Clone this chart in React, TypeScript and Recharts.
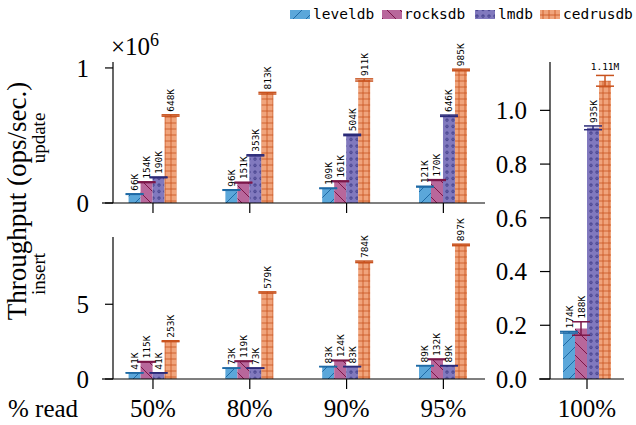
import { BarChart, Bar, XAxis, YAxis, ErrorBar, LabelList } from "recharts";

const readMixes = ["50%", "80%", "90%", "95%"];
const stores = ["leveldb", "rocksdb", "lmdb", "cedrusdb"];

// update workload, ops/sec
const updateLeveldb = [66000, 96000, 109000, 121000];
const updateRocksdb = [154000, 151000, 161000, 170000];
const updateLmdb = [190000, 353000, 504000, 646000];
const updateCedrusdb = [648000, 813000, 911000, 985000];
const updateLeveldbErr = [2000, 2000, 2000, 3000];
const updateRocksdbErr = [3000, 3000, 3000, 3000];
const updateLmdbErr = [3000, 4000, 5000, 5000];
const updateCedrusdbErr = [5000, 6000, 8000, 6000];

// insert workload, ops/sec
const insertLeveldb = [41000, 73000, 83000, 89000];
const insertRocksdb = [115000, 119000, 124000, 132000];
const insertLmdb = [41000, 73000, 83000, 89000];
const insertCedrusdb = [253000, 579000, 784000, 897000];
const insertLeveldbErr = [1000, 1000, 1000, 1000];
const insertRocksdbErr = [2000, 2000, 2000, 2000];
const insertLmdbErr = [1000, 1000, 1000, 1000];
const insertCedrusdbErr = [3000, 4000, 5000, 5000];

// 100% read, per store
const readOnlyMix = ["100%"];
const readOnlyValues = [174000, 188000, 935000, 1110000];
const readOnlyErr = [3000, 25000, 7000, 20000];

const fills: Record<string, string> = {
  leveldb: "#5ba7da",
  rocksdb: "#b8679b",
  lmdb: "#8179be",
  cedrusdb: "#f0a47c",
};
const darks: Record<string, string> = {
  leveldb: "#1f6aa5",
  rocksdb: "#7b1648",
  lmdb: "#2b2a78",
  cedrusdb: "#c8521e",
};

const serif = "Liberation Serif";
const mono = "DejaVu Sans Mono";
const axisStroke = { stroke: "#000", strokeWidth: 1.2 };
const tickText = { fill: "#000", fontSize: 25, fontFamily: serif };

const makeRows = (vals: number[][], errs: number[][]) =>
  readMixes.map((mix, i) => {
    const row: any = { x: i, mix };
    stores.forEach((s, j) => {
      row[s] = vals[j][i];
      row[s + "Err"] = errs[j][i];
    });
    return row;
  });

const updateRows = makeRows(
  [updateLeveldb, updateRocksdb, updateLmdb, updateCedrusdb],
  [updateLeveldbErr, updateRocksdbErr, updateLmdbErr, updateCedrusdbErr]
);
const insertRows = makeRows(
  [insertLeveldb, insertRocksdb, insertLmdb, insertCedrusdb],
  [insertLeveldbErr, insertRocksdbErr, insertLmdbErr, insertCedrusdbErr]
);
const readOnlyRows = readOnlyMix.map((mix) => {
  const row: any = { mix };
  stores.forEach((s, j) => {
    row[s] = readOnlyValues[j];
    row[s + "Err"] = readOnlyErr[j];
  });
  return row;
});

const fmt = (v: number) =>
  v >= 1e6 ? (v / 1e6).toFixed(2) + "M" : Math.round(v / 1000) + "K";

const patternDefs = (
  <defs>
    <pattern id="pat-leveldb" patternUnits="userSpaceOnUse" width="13" height="13">
      <rect width="13" height="13" fill={fills.leveldb} />
      <path d="M0,13 L13,0 M-3,3 L3,-3 M10,16 L16,10" stroke={darks.leveldb} strokeWidth="1" />
    </pattern>
    <pattern id="pat-rocksdb" patternUnits="userSpaceOnUse" width="13" height="13">
      <rect width="13" height="13" fill={fills.rocksdb} />
      <path d="M0,0 L13,13 M-3,10 L3,16 M10,-3 L16,3" stroke={darks.rocksdb} strokeWidth="1" />
    </pattern>
    <pattern id="pat-lmdb" patternUnits="userSpaceOnUse" width="6" height="6.5">
      <rect width="6" height="6.5" fill={fills.lmdb} />
      <circle cx="3" cy="3" r="1.2" fill="none" stroke={darks.lmdb} strokeWidth="0.8" />
    </pattern>
    <pattern id="pat-cedrusdb" patternUnits="userSpaceOnUse" width="6" height="6">
      <rect width="6" height="6" fill={fills.cedrusdb} />
      <path d="M3,0 V6 M0,3 H6" stroke={darks.cedrusdb} strokeWidth="0.8" />
    </pattern>
  </defs>
);

function BarLabel(props: any) {
  const vb = props.viewBox && props.viewBox.width !== undefined ? props.viewBox : props;
  const { x, y, width, height } = vb;
  const value = Number(props.value);
  const err = props.errs ? props.errs[props.index] || 0 : 0;
  const k = value ? height / value : 0;
  const top = y - err * k;
  const cx = x + width / 2;
  if (value >= 1e6) {
    return (
      <text x={cx} y={top - 5} textAnchor="middle" fontSize={9.5} fontFamily={mono} fill="#000">
        {fmt(value)}
      </text>
    );
  }
  return (
    <text
      transform={`translate(${cx}, ${top - 3}) rotate(-90)`}
      textAnchor="start"
      dominantBaseline="central"
      fontSize={9.5}
      fontFamily={mono}
      fill="#000"
    >
      {fmt(value)}
    </text>
  );
}

function series(errsFor: (s: string) => number[]) {
  return stores.map((s) => (
    <Bar key={s} dataKey={s} fill={`url(#pat-${s})`} isAnimationActive={false}>
      <ErrorBar dataKey={s + "Err"} width={9} stroke={darks[s]} strokeWidth={1.5} />
      <LabelList dataKey={s} content={(p: any) => <BarLabel {...p} errs={errsFor(s)} />} />
    </Bar>
  ));
}

const updateErrs: Record<string, number[]> = {
  leveldb: updateLeveldbErr,
  rocksdb: updateRocksdbErr,
  lmdb: updateLmdbErr,
  cedrusdb: updateCedrusdbErr,
};
const insertErrs: Record<string, number[]> = {
  leveldb: insertLeveldbErr,
  rocksdb: insertRocksdbErr,
  lmdb: insertLmdbErr,
  cedrusdb: insertCedrusdbErr,
};

const legendX = [290, 382, 475, 540];
const legendTextX = [313, 404, 498, 563];

export default function App() {
  return (
    <div style={{ position: "absolute", left: 0, top: 0, width: 636, height: 425, background: "#fff" }}>
      {/* update panel */}
      <div style={{ position: "absolute", left: 0, top: 0 }}>
        <BarChart
          width={500}
          height={225}
          data={updateRows}
          margin={{ top: 62, right: 15, bottom: 9, left: 0 }}
          barGap={0}
          barSize={12}
        >
          {patternDefs}
          <XAxis
            type="number"
            dataKey="x"
            domain={[-0.413, 3.43]}
            ticks={[0, 1, 2, 3]}
            interval={0}
            height={13}
            tickSize={10}
            tickFormatter={() => ""}
            axisLine={axisStroke}
            tickLine={axisStroke}
            allowDataOverflow
          />
          <YAxis
            type="number"
            domain={[0, 1044000]}
            ticks={[0, 1000000]}
            interval={0}
            width={113}
            tickSize={8}
            tickMargin={16}
            tickFormatter={(v: number) => String(v / 1e6)}
            tick={tickText}
            axisLine={axisStroke}
            tickLine={axisStroke}
            allowDataOverflow
          />
          {series((s) => updateErrs[s])}
        </BarChart>
      </div>

      {/* insert panel */}
      <div style={{ position: "absolute", left: 0, top: 200 }}>
        <BarChart
          width={500}
          height={225}
          data={insertRows}
          margin={{ top: 37, right: 15, bottom: 0, left: 0 }}
          barGap={0}
          barSize={12}
        >
          {patternDefs}
          <XAxis
            type="number"
            dataKey="x"
            domain={[-0.413, 3.43]}
            ticks={[0, 1, 2, 3]}
            interval={0}
            height={46}
            tickSize={10}
            tickMargin={10}
            tickFormatter={(v: number) => readMixes[v] ?? ""}
            tick={tickText}
            axisLine={axisStroke}
            tickLine={axisStroke}
            allowDataOverflow
          />
          <YAxis
            type="number"
            domain={[0, 950000]}
            ticks={[0, 500000]}
            interval={0}
            width={113}
            tickSize={8}
            tickMargin={16}
            tickFormatter={(v: number) => String(v / 1e5)}
            tick={tickText}
            axisLine={axisStroke}
            tickLine={axisStroke}
            allowDataOverflow
          />
          {series((s) => insertErrs[s])}
        </BarChart>
      </div>

      {/* 100% read panel */}
      <div style={{ position: "absolute", left: 480, top: 0 }}>
        <BarChart
          width={156}
          height={425}
          data={readOnlyRows}
          margin={{ top: 62, right: 12, bottom: 0, left: 0 }}
          barGap={0}
          barSize={12}
        >
          {patternDefs}
          <XAxis
            dataKey="mix"
            height={46}
            tickSize={10}
            tickMargin={10}
            tick={tickText}
            axisLine={axisStroke}
            tickLine={axisStroke}
          />
          <YAxis
            type="number"
            domain={[0, 1180000]}
            ticks={[0, 200000, 400000, 600000, 800000, 1000000]}
            interval={0}
            width={70}
            tickSize={10}
            tickMargin={13}
            tickFormatter={(v: number) => (v / 1e6).toFixed(1)}
            tick={tickText}
            axisLine={axisStroke}
            tickLine={axisStroke}
            allowDataOverflow
          />
          {series((s) => [readOnlyErr[stores.indexOf(s)]])}
        </BarChart>
      </div>

      {/* titles, legend, spine extensions */}
      <svg
        width={636}
        height={425}
        style={{ position: "absolute", left: 0, top: 0, pointerEvents: "none" }}
      >
        {patternDefs}
        <line x1={102} x2={113} y1={203} y2={203} {...axisStroke} />
        <line x1={102} x2={113} y1={379} y2={379} {...axisStroke} />
        <line x1={539} x2={550} y1={379} y2={379} {...axisStroke} />
        <text x={111} y={55} fontSize={25} fontFamily={serif} fill="#000">
          ×10<tspan dy={-9} fontSize={18}>6</tspan>
        </text>
        <text
          transform="translate(26, 201) rotate(-90)"
          textAnchor="middle"
          fontSize={27}
          fontFamily={serif}
          fill="#000"
        >
          Throughput (ops/sec.)
        </text>
        <text transform="translate(45, 138) rotate(-90)" textAnchor="middle" fontSize={19} fontFamily={serif} fill="#000">
          update
        </text>
        <text transform="translate(45, 274) rotate(-90)" textAnchor="middle" fontSize={19} fontFamily={serif} fill="#000">
          insert
        </text>
        <text x={8} y={417} fontSize={25} fontFamily={serif} fill="#000">
          % read
        </text>
        {stores.map((s, i) => (
          <g key={s}>
            <rect x={legendX[i]} y={10} width={20} height={9} fill={`url(#pat-${s})`} />
            <text x={legendTextX[i]} y={19} fontSize={14.5} fontFamily={mono} fill="#000">
              {s}
            </text>
          </g>
        ))}
      </svg>
    </div>
  );
}
